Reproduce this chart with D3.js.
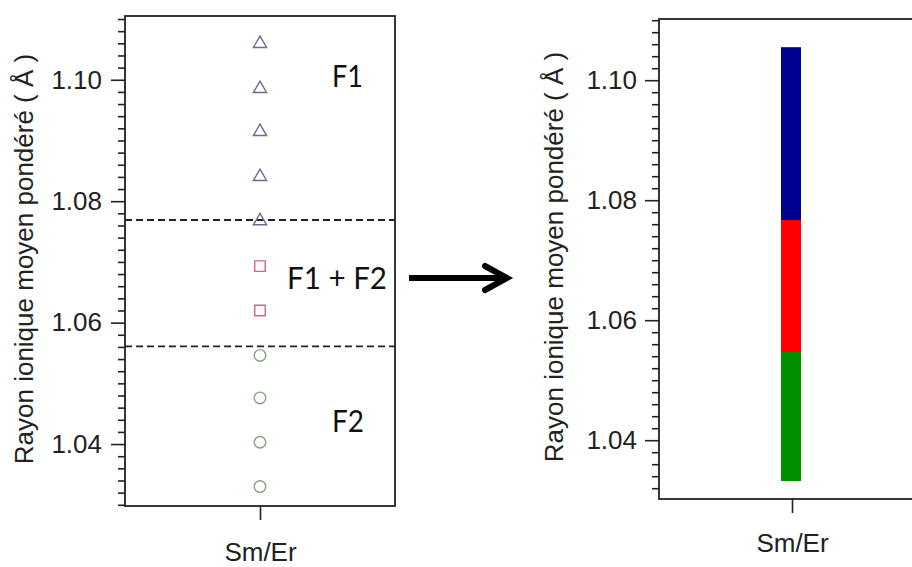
<!DOCTYPE html>
<html>
<head>
<meta charset="utf-8">
<script src="https://cdn.jsdelivr.net/npm/d3@7"></script>
<style>
  html, body { margin: 0; padding: 0; background: #fff; }
  svg { display: block; }
</style>
</head>
<body>
<svg id="chart" width="912" height="567"></svg>
<script>
// ---------- data ----------
const categories = ["Sm/Er"];
const yTickValues = [1.04, 1.06, 1.08, 1.10];
const yMinorStep = 0.002;
const f1Values = [1.1061, 1.0987, 1.0916, 1.0842, 1.0769];
const f12Values = [1.0693, 1.0620];
const f2Values = [1.0546, 1.0476, 1.0403, 1.0330];
const thresholdValues = [1.0769, 1.0561];
const zoneLabels = ["F1", "F1 + F2", "F2"];
const zoneLabelValues = [1.0988, 1.0655, 1.0420];
const barLows = [1.0332, 1.0547, 1.0767];
const barHighs = [1.0547, 1.0767, 1.1055];
const barColors = ["#009000", "#ff0000", "#000090"];
const yTitle = "Rayon ionique moyen pondéré ( Å )";

// ---------- layout ----------
const svg = d3.select("#chart");
const tickFont = "'Liberation Sans', Arial, sans-serif";

function minorTicks(domain) {
  const out = [];
  for (let v = Math.ceil(domain[0] / yMinorStep) * yMinorStep; v <= domain[1] + 1e-9; v += yMinorStep) {
    const r = Math.round(v * 1000) / 1000;
    if (!yTickValues.some(t => Math.abs(t - r) < 1e-6)) out.push(r);
  }
  return out;
}

function drawPanel(p) {
  const g = svg.append("g");
  const y = d3.scaleLinear().domain(p.domain).range([p.bottom, p.top]);
  const x = d3.scalePoint().domain(categories).range([p.left, p.right]).padding(0.5);

  g.append("rect")
    .attr("x", p.left).attr("y", p.top)
    .attr("width", p.right - p.left).attr("height", p.bottom - p.top)
    .attr("fill", "none").attr("stroke", "#222").attr("stroke-width", 1.8);

  const minor = g.append("g").attr("transform", `translate(${p.left},0)`)
    .call(d3.axisLeft(y).tickValues(minorTicks(p.domain)).tickSize(7).tickFormat(""));
  minor.select(".domain").remove();
  minor.selectAll("line").attr("stroke", "#222").attr("stroke-width", 1.6);

  const major = g.append("g").attr("transform", `translate(${p.left},0)`)
    .call(d3.axisLeft(y).tickValues(yTickValues).tickSize(p.majorTick).tickPadding(p.tickPad)
      .tickFormat(d3.format(".2f")));
  major.select(".domain").remove();
  major.selectAll("line").attr("stroke", "#222").attr("stroke-width", 1.6);
  major.selectAll("text").attr("font-family", tickFont).attr("font-size", 26).attr("fill", "#222");

  const xa = g.append("g").attr("transform", `translate(0,${p.bottom})`)
    .call(d3.axisBottom(x).tickSize(14).tickPadding(p.xPad));
  xa.select(".domain").remove();
  xa.selectAll("line").attr("stroke", "#222").attr("stroke-width", 1.6);
  xa.selectAll("text").attr("font-family", tickFont).attr("font-size", 26).attr("fill", "#222");

  g.append("text")
    .attr("transform", `translate(${p.titleX},${(p.top + p.bottom) / 2 - 2}) rotate(-90)`)
    .attr("text-anchor", "middle").attr("dominant-baseline", "middle")
    .attr("font-family", tickFont).attr("font-size", 26).attr("fill", "#222")
    .text(yTitle);

  return { g, x, y };
}

// ---------- left panel ----------
const L = drawPanel({ left: 125, right: 395, top: 16, bottom: 506, domain: [1.0298, 1.1105],
                      majorTick: 14, tickPad: 9, titleX: 26, xPad: 23 });
const cx = L.x(categories[0]);

L.g.selectAll("line.thr").data(thresholdValues).enter().append("line")
  .attr("class", "thr")
  .attr("x1", 125).attr("x2", 395)
  .attr("y1", d => L.y(d)).attr("y2", d => L.y(d))
  .attr("stroke", "#222").attr("stroke-width", 1.8).attr("stroke-dasharray", "7,4");

L.g.selectAll("path.tri").data(f1Values).enter().append("path")
  .attr("class", "tri")
  .attr("d", d3.symbol().type(d3.symbolTriangle).size(75))
  .attr("transform", d => `translate(${cx},${L.y(d) + 1})`)
  .attr("fill", "none").attr("stroke", "#6a6a9a").attr("stroke-width", 1.4);
L.g.selectAll("path.sq").data(f12Values).enter().append("path")
  .attr("class", "sq")
  .attr("d", d3.symbol().type(d3.symbolSquare).size(110))
  .attr("transform", d => `translate(${cx},${L.y(d)})`)
  .attr("fill", "none").attr("stroke", "#d06a7a").attr("stroke-width", 1.4);
L.g.selectAll("path.ci").data(f2Values).enter().append("path")
  .attr("class", "ci")
  .attr("d", d3.symbol().type(d3.symbolCircle).size(105))
  .attr("transform", d => `translate(${cx},${L.y(d)})`)
  .attr("fill", "none").attr("stroke", "#80a580").attr("stroke-width", 1.4);

// zone labels (y = baseline)
const zoneX = [332, 287, 332];
L.g.selectAll("text.zone").data(zoneLabels).enter().append("text")
  .attr("class", "zone")
  .attr("x", (d, i) => zoneX[i]).attr("y", (d, i) => L.y(zoneLabelValues[i]))
  .attr("text-anchor", "start")
  .attr("font-family", "Lato, 'Open Sans', sans-serif").attr("font-size", 30).attr("fill", "#111")
  .attr("textLength", (d, i) => [31, 100, 32][i]).attr("lengthAdjust", "spacingAndGlyphs")
  .text(d => d);

// arrow
svg.append("line").attr("x1", 409).attr("y1", 278).attr("x2", 505).attr("y2", 278)
  .attr("stroke", "#000").attr("stroke-width", 6);
svg.append("polyline").attr("points", "485,266 507,278 485,290")
  .attr("fill", "none").attr("stroke", "#000").attr("stroke-width", 6)
  .attr("stroke-linecap", "round").attr("stroke-linejoin", "miter");

// ---------- right panel ----------
const R = drawPanel({ left: 659, right: 925, top: 19, bottom: 499, domain: [1.0302, 1.1102],
                      majorTick: 14, tickPad: 8, titleX: 556, xPad: 21 });
const barW = 20;
const bx = R.x(categories[0]);
R.g.selectAll("rect.seg").data(barLows).enter().append("rect")
  .attr("class", "seg")
  .attr("x", bx - barW / 2 - 1).attr("width", barW)
  .attr("y", (d, i) => R.y(barHighs[i]))
  .attr("height", (d, i) => R.y(barLows[i]) - R.y(barHighs[i]))
  .attr("fill", (d, i) => barColors[i]);
</script>
</body>
</html>
